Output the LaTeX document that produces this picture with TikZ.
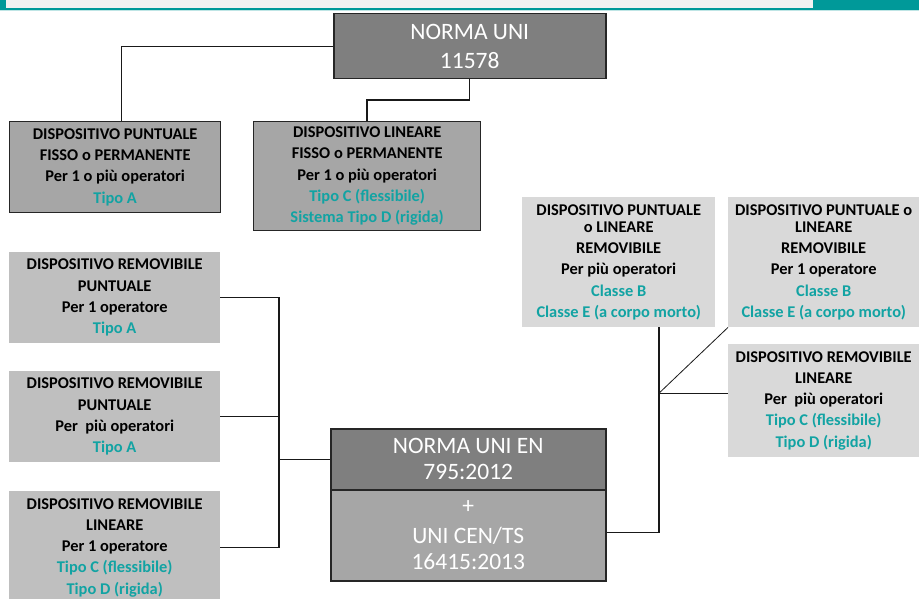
\documentclass[tikz,border=0pt]{standalone}
\usepackage{fontspec}
\setmainfont{Carlito}
\definecolor{teal1}{RGB}{0,153,153}
\definecolor{tealtxt}{RGB}{18,163,163}
\definecolor{barbg}{RGB}{242,242,242}
\definecolor{dark}{RGB}{127,127,127}
\definecolor{mid}{RGB}{166,166,166}
\definecolor{silver}{RGB}{191,191,191}
\definecolor{light}{RGB}{217,217,217}
\newcommand\tl[1]{\textcolor{tealtxt}{#1}}
\tikzset{
  card/.style={rectangle, inner sep=0pt, align=center, anchor=north west,
    font=\fontsize{16.4}{21.2}\selectfont\bfseries, text=black},
  framed/.style={card, draw=black!85, line width=1.3pt},
  big/.style={rectangle, inner sep=0pt, align=center, anchor=north west,
    draw=black!85, line width=1.5pt, fill=dark, text=white,
    font=\fontsize{23.5}{29}\selectfont},
  link/.style={draw=black!90, line width=1.1pt},
}
\begin{document}
\begin{tikzpicture}[x=1pt,y=-1pt]
\useasboundingbox (0,0) rectangle (919,599);
\fill[white] (0,0) rectangle (919,599);
% header band
\fill[teal1] (0,0) rectangle (919,10);
\fill[barbg] (6,0) rectangle (813,8);
\fill[teal1!25] (0,10) rectangle (919,11.2);

% standards
\node[big, minimum width=272, minimum height=65] (uni) at (333,13) {NORMA UNI\\11578};
\node[big, minimum width=275, minimum height=91, fill=mid] (ts) at (330,489)
  {+\\[1pt]UNI CEN/TS\\[-3pt]16415:2013};
\node[big, minimum width=275, minimum height=61] (en) at (330,428)
  {NORMA UNI EN\\[-3pt]795:2012};

% fixed devices
\node[framed, fill=mid, minimum width=211, minimum height=91] (fp) at (9,121)
  {DISPOSITIVO PUNTUALE\\FISSO o PERMANENTE\\Per 1 o più operatori\\\tl{Tipo A}};
\node[framed, fill=mid, minimum width=227, minimum height=109] (fl) at (253,121)
  {DISPOSITIVO LINEARE\\FISSO o PERMANENTE\\Per 1 o più operatori\\\tl{Tipo C (flessibile)}\\\tl{Sistema Tipo D (rigida)}};

% removable devices, left column
\node[card, fill=silver, minimum width=211, minimum height=91] (r1) at (9,252)
  {DISPOSITIVO REMOVIBILE\\PUNTUALE\\Per 1 operatore\\\tl{Tipo A}};
\node[card, fill=silver, minimum width=211, minimum height=91] (r2) at (9,371)
  {DISPOSITIVO REMOVIBILE\\PUNTUALE\\Per~ più operatori\\\tl{Tipo A}};
\node[card, fill=silver, minimum width=211, minimum height=113] (r3) at (9,491)
  {DISPOSITIVO REMOVIBILE\\LINEARE\\Per 1 operatore\\\tl{Tipo C (flessibile)}\\\tl{Tipo D (rigida)}};

% removable devices, right side
\node[card, fill=light, minimum width=193, minimum height=130] (p1) at (522,197)
  {DISPOSITIVO PUNTUALE\\[-4pt]o LINEARE\\REMOVIBILE\\Per più operatori\\\tl{Classe B}\\\tl{Classe E (a corpo morto)}};
\node[card, fill=light, minimum width=191, minimum height=130] (p2) at (728,197)
  {DISPOSITIVO PUNTUALE o\\[-4pt]LINEARE\\REMOVIBILE\\Per 1 operatore\\\tl{Classe B}\\\tl{Classe E (a corpo morto)}};
\node[card, fill=light, minimum width=191, minimum height=113] (rl) at (728,344)
  {DISPOSITIVO REMOVIBILE\\LINEARE\\Per~ più operatori\\\tl{Tipo C (flessibile)}\\\tl{Tipo D (rigida)}};

% connectors
\coordinate (jl) at (279,0);
\coordinate (jr) at (659,0);
\coordinate (mid) at (367,100);
\coordinate (hub) at ([yshift=7.5pt]rl.west -| jr);
\draw[link] (uni.west) -| ([xshift=6.5pt]fp.north);
\draw[link] (uni.south) |- (mid) -- (mid |- fl.north);
\draw[link] (r1.east) -| (r3.east -| jl) -- (r3.east);
\draw[link] (r2.east) -- (r2.east -| jl);
\draw[link] (en.west -| jl) -- (en.west);
\draw[link] (p1.south -| jr) -- ([yshift=2.5pt]ts.east -| jr) -- ([yshift=2.5pt]ts.east);
\draw[link] (hub) -- (hub -| rl.west);
\draw[link, line width=0.8pt] (hub) -- (p2.south west);
\end{tikzpicture}
\end{document}
